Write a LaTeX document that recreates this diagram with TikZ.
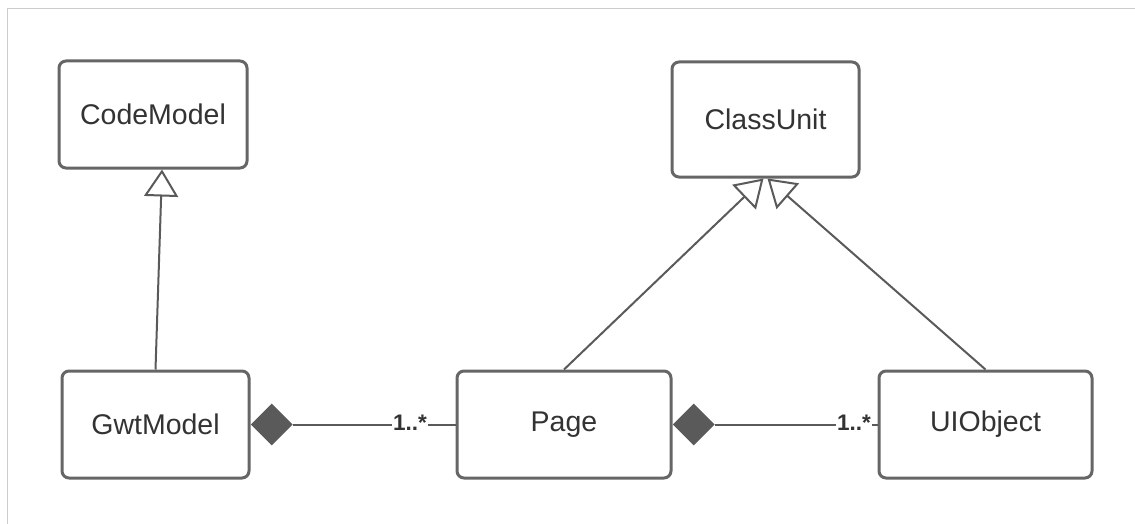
\documentclass[tikz,border=0pt]{standalone}
\usepackage{fontspec}
\setmainfont{Liberation Sans}
\usetikzlibrary{arrows.meta,shapes.geometric}
\definecolor{frameline}{HTML}{CCCCCC}
\definecolor{boxline}{HTML}{666666}
\definecolor{connline}{HTML}{5A5A5A}
\definecolor{txt}{HTML}{333333}
\tikzset{
  umlclass/.style={draw=boxline, line width=3pt, rounded corners=7pt, fill=white,
    text=txt, font=\fontsize{28.5}{34}\selectfont, inner sep=0pt},
  gen/.style={draw=connline, line width=2pt,
    -{Triangle[open, length=27pt, width=34pt, fill=white]}},
  conn/.style={draw=connline, line width=2pt},
  compdia/.style={shape=diamond, fill=connline, draw=none, inner sep=0pt,
    minimum width=42pt, minimum height=42pt, anchor=west},
  mult/.style={fill=white, inner sep=1pt, text=txt,
    font=\bfseries\fontsize{22.5}{26}\selectfont, yshift=1.5pt},
}
\begin{document}
\begin{tikzpicture}[x=1pt, y=-1pt]
  \useasboundingbox (0,0) rectangle (1135,524);
  % light frame along the top and left edges
  \draw[frameline, line width=1pt] (7,524) -- (7,9) -- (1135,9);

  % classes
  \node[umlclass, minimum width=188pt, minimum height=107pt] (code) at (153,114.5) {CodeModel};
  \node[umlclass, minimum width=187pt, minimum height=115pt] (cu)   at (765.5,119.5) {ClassUnit};
  \node[umlclass, minimum width=187pt, minimum height=107pt] (gwt)  at (155.5,424.5) {GwtModel};
  \node[umlclass, minimum width=214pt, minimum height=107pt] (page) at (564,424.5) {Page};
  \node[umlclass, minimum width=213pt, minimum height=107pt] (uio)  at (985.5,424.5) {UIObject};

  % generalisations
  \draw[gen] (gwt.north) -- ([xshift=9pt]code.south);
  \draw[gen] (page.north) -- ([xshift=-2pt]cu.south);
  \draw[gen] (uio.north) -- ([xshift=2pt]cu.south);

  % compositions
  \node[compdia] (dA) at (gwt.east) {};
  \node[compdia] (dB) at (page.east) {};
  \draw[conn] (dA.east) -- (page.west) node[mult, pos=0.72] {1..*};
  \draw[conn] (dB.east) -- (uio.west) node[mult, pos=0.855] {1..*};
\end{tikzpicture}
\end{document}
